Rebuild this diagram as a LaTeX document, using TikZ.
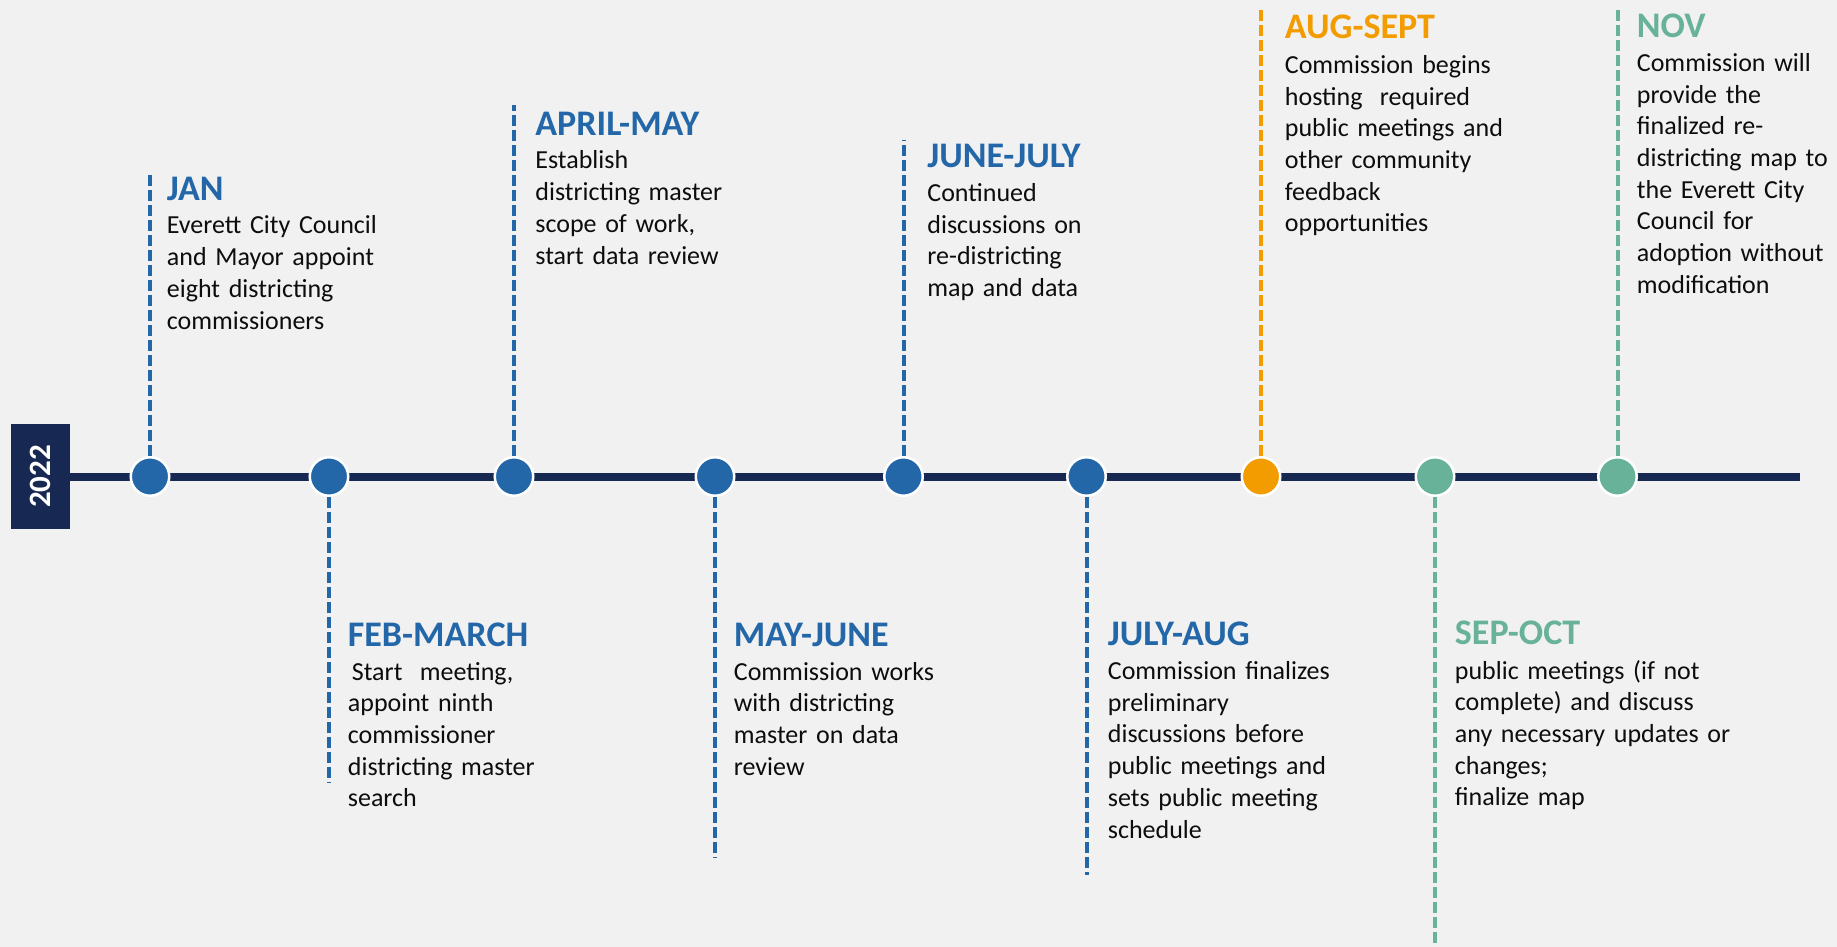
\documentclass[tikz,border=0pt]{standalone}
\usepackage{fontspec}
\setmainfont{Carlito}
\definecolor{bg}{HTML}{F1F1F1}
\definecolor{navy}{HTML}{172952}
\definecolor{tblue}{HTML}{2367A9}
\definecolor{torange}{HTML}{F29C00}
\definecolor{tgreen}{HTML}{67B298}
\definecolor{ink}{HTML}{0D0D0D}
\begin{document}
\begin{tikzpicture}[x=0.5pt,y=-0.5pt,
  dot/.style={circle,draw=white,line width=1.25pt,minimum size=19.25pt,inner sep=0pt,fill=#1},
  stem/.style={draw=#1,dash pattern=on 5.5pt off 2pt,line width=2pt},
  ttl/.style={anchor=base west,inner sep=0pt,text=#1,font=\fontsize{18}{21}\selectfont\bfseries},
  body/.style={anchor=base west,inner sep=0pt,text=ink,text width=150pt,align=left,font=\fontsize{13}{15.85}\selectfont},
  yearbox/.style={fill=navy,minimum width=29.5pt,minimum height=52.5pt,inner sep=0pt,text=white,font=\fontsize{15.5}{18}\selectfont\bfseries},
  axis/.style={draw=navy,line width=4pt}
]
\fill[bg] (0,0) rectangle (1837,947);
\useasboundingbox (0,0) rectangle (1837,947);

% year box and timeline
\node[yearbox] (yr) at (40.5,476.5) {\rotatebox{90}{2022}};
\coordinate (axend) at (1800,476.5);
\draw[axis] (yr.east) -- (axend);

% milestone dots
\node[dot=tblue] (c1) at (150,476.5) {};
\node[dot=tblue] (c2) at (329,476.5) {};
\node[dot=tblue] (c3) at (514,476.5) {};
\node[dot=tblue] (c4) at (715,476.5) {};
\node[dot=tblue] (c5) at (903.5,476.5) {};
\node[dot=tblue] (c6) at (1086.5,476.5) {};
\node[dot=torange] (c7) at (1261,476.5) {};
\node[dot=tgreen] (c8) at (1435,476.5) {};
\node[dot=tgreen] (c9) at (1617.5,476.5) {};

% stem ends
\coordinate (e1) at (150,175);
\coordinate (e2) at (329,783);
\coordinate (e3) at (514,105);
\coordinate (e4) at (715,858);
\coordinate (e5) at (903.5,140);
\coordinate (e6) at (1086.5,875);
\coordinate (e7) at (1261,8);
\coordinate (e8) at (1435,947);
\coordinate (e9) at (1617.5,8);

\draw[stem=tblue] (c1.north) -- (e1);
\draw[stem=tblue] (c2.south) -- (e2);
\draw[stem=tblue] (c3.north) -- (e3);
\draw[stem=tblue] (c4.south) -- (e4);
\draw[stem=tblue] (c5.north) -- (e5);
\draw[stem=tblue] (c6.south) -- (e6);
\draw[stem=torange] (c7.north) -- (e7);
\draw[stem=tgreen] (c8.south) -- (e8);
\draw[stem=tgreen] (c9.north) -- (e9);

% texts
\node[ttl=tblue] (t1) at (166.5,200) {JAN};
\node[body] (b1) at (166.5,234) {Everett City Council\\and Mayor appoint\\eight districting\\commissioners};

\node[ttl=tblue] (t2) at (347.5,646.5) {FEB-MARCH};
\node[body] (b2) at (347.5,680) {\hspace*{2pt}Start\ \ meeting,\\appoint ninth\\commissioner\\districting master\\search};

\node[ttl=tblue] (t3) at (535,135) {APRIL-MAY};
\node[body] (b3) at (535,169) {Establish\\districting master\\scope of work,\\start data review};

\node[ttl=tblue] (t4) at (733.5,646.5) {MAY-JUNE};
\node[body] (b4) at (733.5,680) {Commission works\\with districting\\master on data\\review};

\node[ttl=tblue] (t5) at (927,167.5) {JUNE-JULY};
\node[body] (b5) at (927,201.5) {Continued\\discussions on\\re-districting\\map and data};

\node[ttl=tblue] (t6) at (1107.5,645.5) {JULY-AUG};
\node[body] (b6) at (1107.5,679.5) {Commission finalizes\\preliminary\\discussions before\\public meetings and\\sets public meeting\\schedule};

\node[ttl=torange] (t7) at (1284.5,38.5) {AUG-SEPT};
\node[body] (b7) at (1284.5,73.5) {Commission begins\\hosting\ \ required\\public meetings and\\other community\\feedback\\opportunities};

\node[ttl=tgreen] (t8) at (1454.5,644) {SEP-OCT};
\node[body] (b8) at (1454.5,679) {public meetings (if not\\complete) and discuss\\any necessary updates or\\changes;\\finalize map};

\node[ttl=tgreen] (t9) at (1636.5,37.5) {NOV};
\node[body] (b9) at (1636.5,71.5) {Commission will\\provide the\\finalized re-\\districting map to\\the Everett City\\Council for\\adoption without\\modification};
\end{tikzpicture}
\end{document}
